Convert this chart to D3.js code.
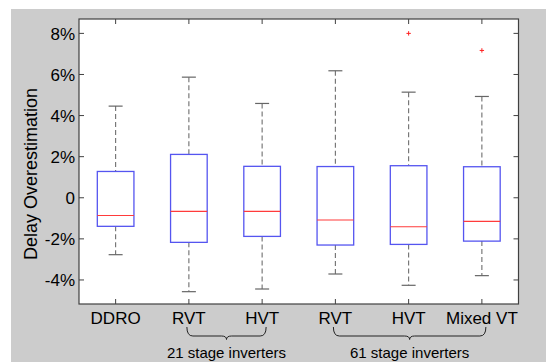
<!DOCTYPE html>
<html>
<head>
<meta charset="utf-8">
<script src="https://cdn.jsdelivr.net/npm/d3@7"></script>
<style>
body{margin:0;padding:0;background:#ffffff;}
svg{display:block;font-family:"Liberation Sans",Arial,Helvetica,sans-serif;}
</style>
</head>
<body>
<div id="ChartPart"></div>
<script>
// chart values (percent)
var Categories = ["DDRO","RVT","HVT","RVT","HVT","Mixed VT"];
var WhiskerHigh = [4.46, 5.87, 4.59, 6.18, 5.14, 4.93];
var Quartile3 = [1.28, 2.11, 1.53, 1.52, 1.56, 1.51];
var Median = [-0.86, -0.66, -0.66, -1.08, -1.41, -1.15];
var Quartile1 = [-1.39, -2.17, -1.88, -2.30, -2.27, -2.11];
var WhiskerLow = [-2.77, -4.57, -4.44, -3.71, -4.26, -3.79];
var Outliers = [[], [], [], [], [8.0], [7.17]];
var YTicks = [-4, -2, 0, 2, 4, 6, 8];
var Groups = [
	{label:"21 stage inverters", from:2, to:3},
	{label:"61 stage inverters", from:4, to:6}
];

var Width = 546, Height = 362;
var PlotLeft = 79, PlotRight = 518.5, PlotTop = 19, PlotBottom = 304;

var ChartSvg = d3.select("#ChartPart")
	.append("svg")
	.attr("width",Width)
	.attr("height",Height);

//gray figure background
ChartSvg.append("rect")
	.attr("x",11).attr("y",9)
	.attr("width",Width-11).attr("height",Height-9)
	.attr("fill","#cccccc");

//white axes area
ChartSvg.append("rect")
	.attr("x",PlotLeft).attr("y",PlotTop)
	.attr("width",PlotRight-PlotLeft).attr("height",PlotBottom-PlotTop)
	.attr("fill","#ffffff");

var xScale = d3.scaleLinear().domain([0.5,6.5]).range([PlotLeft,PlotRight]);
var yScale = d3.scaleLinear().domain([-5.17,8.7]).range([PlotBottom,PlotTop]);

var BoxHalf = xScale(1.25)-xScale(1);
var CapHalf = 7;
var idx = d3.range(Categories.length);

//whiskers (dashed)
var Whisk = ChartSvg.append("g")
	.attr("stroke","#6e6e6e")
	.attr("stroke-width",1.1)
	.attr("stroke-dasharray","5,3");
Whisk.selectAll(".up").data(idx).enter().append("line")
	.attr("x1",function(i){return xScale(i+1);})
	.attr("x2",function(i){return xScale(i+1);})
	.attr("y1",function(i){return yScale(WhiskerHigh[i]);})
	.attr("y2",function(i){return yScale(Quartile3[i]);});
Whisk.selectAll(".down").data(idx).enter().append("line")
	.attr("x1",function(i){return xScale(i+1);})
	.attr("x2",function(i){return xScale(i+1);})
	.attr("y1",function(i){return yScale(Quartile1[i]);})
	.attr("y2",function(i){return yScale(WhiskerLow[i]);});

//whisker caps
var Caps = ChartSvg.append("g").attr("stroke","#666666").attr("stroke-width",1.2);
Caps.selectAll(".hi").data(idx).enter().append("line")
	.attr("x1",function(i){return xScale(i+1)-CapHalf;})
	.attr("x2",function(i){return xScale(i+1)+CapHalf;})
	.attr("y1",function(i){return yScale(WhiskerHigh[i]);})
	.attr("y2",function(i){return yScale(WhiskerHigh[i]);});
Caps.selectAll(".lo").data(idx).enter().append("line")
	.attr("x1",function(i){return xScale(i+1)-CapHalf;})
	.attr("x2",function(i){return xScale(i+1)+CapHalf;})
	.attr("y1",function(i){return yScale(WhiskerLow[i]);})
	.attr("y2",function(i){return yScale(WhiskerLow[i]);});

//boxes
ChartSvg.append("g").selectAll("rect").data(idx).enter().append("rect")
	.attr("x",function(i){return xScale(i+1)-BoxHalf;})
	.attr("y",function(i){return yScale(Quartile3[i]);})
	.attr("width",2*BoxHalf)
	.attr("height",function(i){return yScale(Quartile1[i])-yScale(Quartile3[i]);})
	.attr("fill","none")
	.attr("stroke","#5555f0")
	.attr("stroke-width",1.3);

//medians
ChartSvg.append("g").selectAll("line").data(idx).enter().append("line")
	.attr("x1",function(i){return xScale(i+1)-BoxHalf;})
	.attr("x2",function(i){return xScale(i+1)+BoxHalf;})
	.attr("y1",function(i){return yScale(Median[i]);})
	.attr("y2",function(i){return yScale(Median[i]);})
	.attr("stroke","#ff3b3b")
	.attr("stroke-width",1.1);

//outliers
var OutPts = [];
for(var i=0;i<Outliers.length;i++)
	{
		for(var j=0;j<Outliers[i].length;j++)
			{
				OutPts.push({x:i+1, y:Outliers[i][j]});
			}
	}
ChartSvg.append("g").selectAll("path").data(OutPts).enter().append("path")
	.attr("d",function(d){
		var cx = xScale(d.x), cy = yScale(d.y);
		return "M"+(cx-2.2)+","+cy+"H"+(cx+2.2)+"M"+cx+","+(cy-2.2)+"V"+(cy+2.2);
	})
	.attr("stroke","#ff2020")
	.attr("stroke-width",1);

//axes frame with inward ticks
var AxisColor = "#404040";
ChartSvg.append("rect")
	.attr("x",PlotLeft).attr("y",PlotTop)
	.attr("width",PlotRight-PlotLeft).attr("height",PlotBottom-PlotTop)
	.attr("fill","none").attr("stroke",AxisColor).attr("stroke-width",1.2);

var Ticks = ChartSvg.append("g").attr("stroke",AxisColor).attr("stroke-width",1);
Ticks.selectAll(".yl").data(YTicks).enter().append("line")
	.attr("x1",PlotLeft).attr("x2",PlotLeft+5)
	.attr("y1",function(d){return yScale(d);}).attr("y2",function(d){return yScale(d);});
Ticks.selectAll(".yr").data(YTicks).enter().append("line")
	.attr("x1",PlotRight).attr("x2",PlotRight-5)
	.attr("y1",function(d){return yScale(d);}).attr("y2",function(d){return yScale(d);});
Ticks.selectAll(".xb").data(idx).enter().append("line")
	.attr("x1",function(i){return xScale(i+1);}).attr("x2",function(i){return xScale(i+1);})
	.attr("y1",PlotBottom).attr("y2",PlotBottom-5);
Ticks.selectAll(".xt").data(idx).enter().append("line")
	.attr("x1",function(i){return xScale(i+1);}).attr("x2",function(i){return xScale(i+1);})
	.attr("y1",PlotTop).attr("y2",PlotTop+5);

//y tick labels
ChartSvg.append("g").selectAll("text").data(YTicks).enter().append("text")
	.attr("x",PlotLeft-4)
	.attr("y",function(d){return yScale(d);})
	.attr("dy","0.36em")
	.attr("text-anchor","end")
	.style("font-size","17px")
	.attr("fill","#000")
	.text(function(d){return d===0 ? "0" : d+"%";});

//x tick labels
ChartSvg.append("g").selectAll("text").data(idx).enter().append("text")
	.attr("x",function(i){return xScale(i+1);})
	.attr("y",324)
	.attr("text-anchor","middle")
	.style("font-size","17px")
	.attr("fill","#000")
	.text(function(i){return Categories[i];});

//y axis title
ChartSvg.append("text")
	.attr("transform","translate(37,174) rotate(-90)")
	.attr("text-anchor","middle")
	.style("font-size","18px")
	.attr("fill","#000")
	.text("Delay Overestimation");

//group braces
function BracePath(x1,x2)
{
	var top = 327, mid = 336, tip = 339.5, mx = (x1+x2)/2;
	return "M"+x1+","+top
		+"Q"+x1+","+mid+" "+(x1+6)+","+mid
		+"L"+(mx-5)+","+mid
		+"Q"+mx+","+mid+" "+mx+","+tip
		+"Q"+mx+","+mid+" "+(mx+5)+","+mid
		+"L"+(x2-6)+","+mid
		+"Q"+x2+","+mid+" "+x2+","+top;
}
var Braces = ChartSvg.append("g");
Braces.selectAll("path").data(Groups).enter().append("path")
	.attr("d",function(g){return BracePath(xScale(g.from)-2,xScale(g.to)+4);})
	.attr("fill","none")
	.attr("stroke","#222")
	.attr("stroke-width",1);
Braces.selectAll("text").data(Groups).enter().append("text")
	.attr("x",function(g){return (xScale(g.from)-2+xScale(g.to)+4)/2;})
	.attr("y",358)
	.attr("text-anchor","middle")
	.style("font-size","15px")
	.attr("fill","#000")
	.text(function(g){return g.label;});
</script>
</body>
</html>
